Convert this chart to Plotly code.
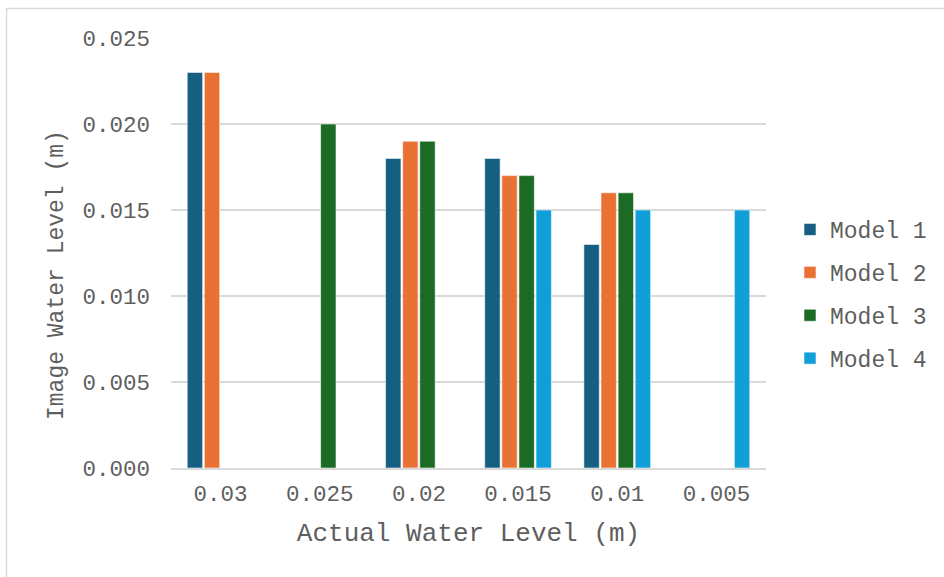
import plotly.graph_objects as go

# Actual water levels (category axis, as printed) and image-measured levels per model
categories = ["0.03", "0.025", "0.02", "0.015", "0.01", "0.005"]
model_1 = [0.023, None, 0.018, 0.018, 0.013, None]
model_2 = [0.023, None, 0.019, 0.017, 0.016, None]
model_3 = [None, 0.020, 0.019, 0.017, 0.016, None]
model_4 = [None, None, None, 0.015, 0.015, 0.015]

series_names = ["Model 1", "Model 2", "Model 3", "Model 4"]
series_values = [model_1, model_2, model_3, model_4]
series_colors = ["#155F83", "#EA7134", "#1B6B24", "#109FD8"]

y_ticks = [0.0, 0.005, 0.010, 0.015, 0.020, 0.025]

FONT = "Courier New, Liberation Mono, monospace"
GRAY = "#5E5E5E"

W, H = 944, 577
L, R, T, B = 171, 178, 38, 109
pw, ph = W - L - R, H - T - B

fig = go.Figure()
for name, vals, col in zip(series_names, series_values, series_colors):
    fig.add_trace(go.Bar(
        x=categories, y=vals, name=name, legendgroup=name,
        marker=dict(color=col, line=dict(color="rgba(255,255,255,0.55)", width=1)),
    ))

def px_x(p):
    return (p - L) / pw

def px_y(p):
    return (H - B - p) / ph

fig.update_layout(
    width=W, height=H,
    margin=dict(l=L, r=R, t=T, b=B, autoexpand=False),
    paper_bgcolor="white", plot_bgcolor="white",
    barmode="group", bargap=0.31, bargroupgap=0.1,
    font=dict(family=FONT, color=GRAY, size=22),
    showlegend=True,
    legend=dict(
        x=px_x(790), y=px_y(208), xanchor="left", yanchor="top",
        font=dict(family=FONT, size=23, color=GRAY),
        traceorder="grouped", tracegroupgap=10,
        bgcolor="rgba(0,0,0,0)", itemwidth=30,
    ),
    xaxis=dict(
        type="category", showgrid=False, ticks="",
        showline=True, linecolor="#D9D9D9", linewidth=1.5,
        tickfont=dict(family=FONT, size=22.5, color=GRAY),
        ticklabelstandoff=4,
        title=dict(text="Actual Water Level (m)",
                   font=dict(family=FONT, size=26, color=GRAY), standoff=16),
    ),
    yaxis=dict(
        range=[0, 0.025], tickvals=y_ticks, tickformat=".3f",
        showgrid=True, gridcolor="#D9D9D9", gridwidth=1.5,
        zeroline=False, showline=False, ticks="",
        tickfont=dict(family=FONT, size=22.5, color=GRAY),
        ticklabelstandoff=20,
    ),
    annotations=[dict(
        text="Image Water Level (m)", textangle=-90,
        xref="paper", yref="paper", x=px_x(57), y=px_y(275),
        xanchor="center", yanchor="middle", showarrow=False,
        font=dict(family=FONT, size=23, color=GRAY),
    )],
    shapes=[dict(
        type="rect", xref="paper", yref="paper",
        x0=px_x(6.5), x1=px_x(950), y0=px_y(585), y1=px_y(8.5),
        line=dict(color="#D9D9D9", width=1.5), fillcolor="rgba(0,0,0,0)",
        layer="below",
    )],
)

fig.write_html("out.html")
